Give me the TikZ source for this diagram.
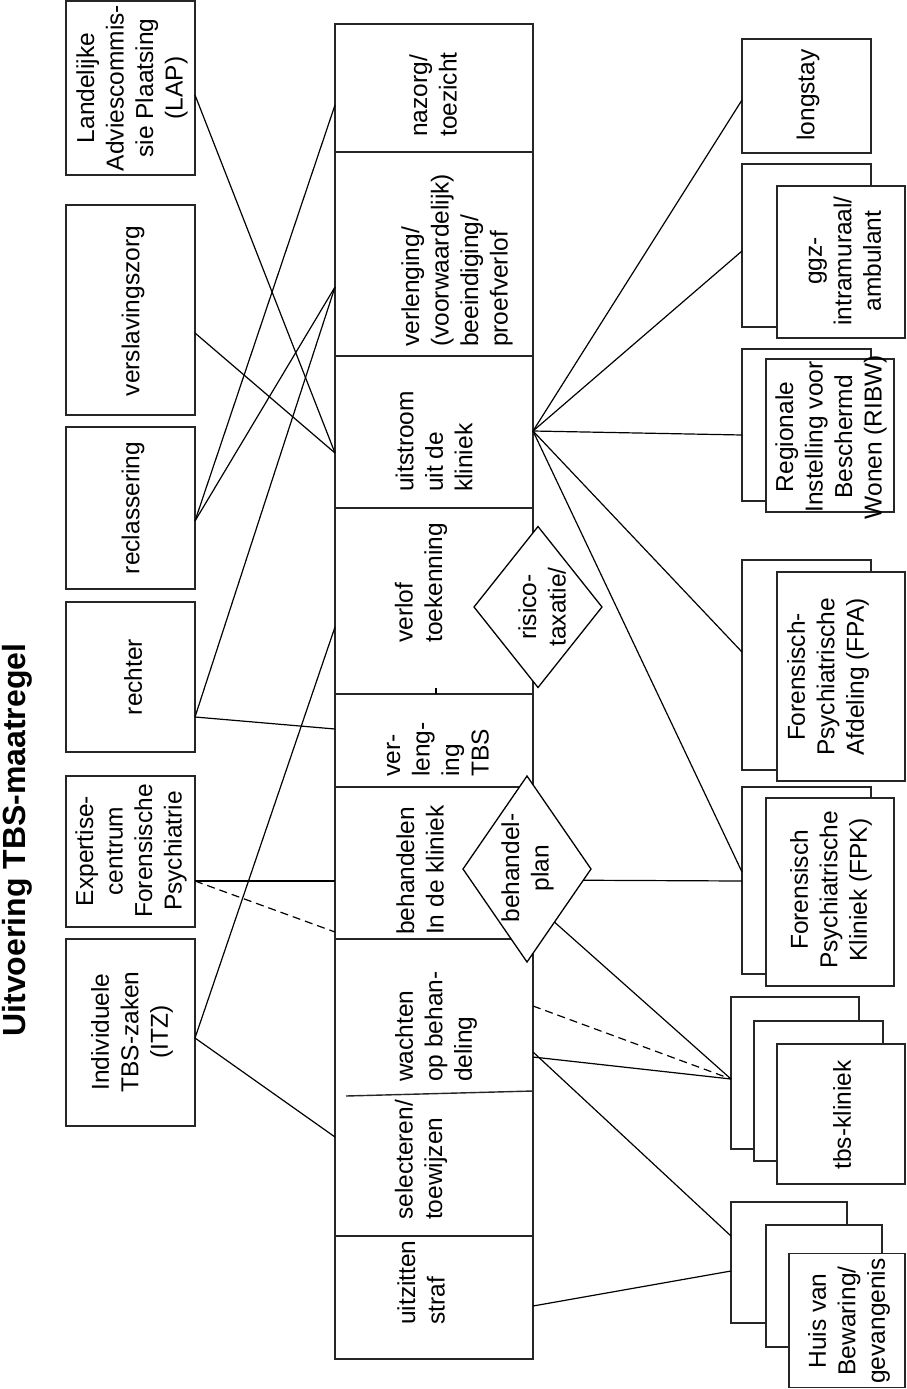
\documentclass[tikz,border=0pt]{standalone}
\usepackage{fontspec}
\setmainfont{Liberation Sans}
\usetikzlibrary{shapes.geometric}
\newcommand\myfs{\fontsize{24.5}{29.5}\selectfont}
\newcommand\mybox[5]{\node[box, minimum width=#4, minimum height=#5] (#1) at (#2,#3) {};}
\begin{document}
\begin{tikzpicture}[x=1pt,y=-1pt,
  box/.style={draw=black!85, line width=1.4pt, fill=white, inner sep=0pt, outer sep=0pt},
  dia/.style={diamond, draw=black, line width=1.3pt, fill=white, inner sep=0pt, outer sep=0pt},
  txt/.style={rotate=90, font=\myfs, align=center, inner sep=0pt},
  ltxt/.style={rotate=90, font=\myfs, align=left, inner sep=0pt, anchor=west},
  conn/.style={line width=1.2pt, black},
  dconn/.style={line width=1.2pt, black, dash pattern=on 8pt off 5pt},
  divl/.style={line width=1.4pt, black!85}]
\useasboundingbox (0,0) rectangle (906,1389);

% title
\node[rotate=90, font=\bfseries\fontsize{32}{38}\selectfont, inner sep=0pt] (title) at (17,840) {Uitvoering TBS-maatregel};

% left boxes
\mybox{lap}{130.5}{88}{129pt}{174pt}
\mybox{versl}{130.5}{310}{129pt}{210pt}
\mybox{recl}{130.5}{508}{129pt}{162pt}
\mybox{rech}{130.5}{677}{129pt}{150pt}
\mybox{exp}{130.5}{851.5}{129pt}{151pt}
\mybox{itz}{130.5}{1032.5}{129pt}{187pt}

% central column
\mybox{col}{434}{691.5}{198pt}{1335pt}
\coordinate (d1a) at (335,152);  \coordinate (d1b) at (533,152);
\coordinate (d2a) at (335,356);  \coordinate (d2b) at (533,356);
\coordinate (d3a) at (335,508);  \coordinate (d3b) at (533,508);
\coordinate (d4a) at (335,694);  \coordinate (d4b) at (533,694);
\coordinate (d5a) at (335,787);  \coordinate (d5b) at (533,787);
\coordinate (d6a) at (335,939);  \coordinate (d6b) at (533,939);
\coordinate (d7a) at (346,1096); \coordinate (d7b) at (533,1091);
\coordinate (d8a) at (335,1236); \coordinate (d8b) at (533,1236);
\foreach \i in {1,...,8} {\draw[divl] (d\i a) -- (d\i b);}
\coordinate (ticka) at (436,688); \coordinate (tickb) at (436,694);
\draw[line width=2pt] (ticka) -- (tickb);

% right boxes
\mybox{long}{806.5}{96}{129pt}{114pt}
\mybox{ggzB}{806.5}{245.5}{129pt}{163pt}
\mybox{ggzF}{841}{262}{128pt}{152pt}
\mybox{ribwB}{806.5}{425}{129pt}{152pt}
\mybox{ribwF}{830}{435.5}{128pt}{153pt}
\mybox{fpaB}{806.5}{665}{129pt}{210pt}
\mybox{fpaF}{841}{676.5}{128pt}{209pt}
\mybox{fpkB}{806.5}{880.5}{129pt}{187pt}
\mybox{fpkF}{830}{892}{128pt}{188pt}
\mybox{tbsA}{795}{1073}{128pt}{152pt}
\mybox{tbsB}{818.5}{1091}{129pt}{140pt}
\mybox{tbsC}{841}{1114}{128pt}{140pt}
\mybox{huisA}{789}{1262.5}{116pt}{121pt}
\mybox{huisB}{824}{1286}{116pt}{122pt}
\mybox{huisC}{847}{1320.5}{116pt}{134pt}

% connection points
\coordinate (lapR) at (195,95);
\coordinate (verslR) at (195,333);
\coordinate (reclR) at (195,521);
\coordinate (rechR) at (195,717);
\coordinate (expR) at (195,881);
\coordinate (itzR) at (195,1038);
\coordinate (L105) at (335,105);
\coordinate (L287) at (335,287);
\coordinate (L453) at (335,453);
\coordinate (L627) at (335,627);
\coordinate (L729) at (335,729);
\coordinate (L881) at (335,881);
\coordinate (L932) at (335,932);
\coordinate (L1137) at (335,1137);
\coordinate (R431) at (533,431);
\coordinate (R880) at (533,880);
\coordinate (R903) at (533,903);
\coordinate (R1006) at (533,1006);
\coordinate (R1052) at (533,1052);
\coordinate (R1057) at (533,1057);
\coordinate (R1306) at (533,1306);
\coordinate (longL) at (742,100);
\coordinate (ggzL) at (742,251);
\coordinate (ribwL) at (742,435);
\coordinate (fpaL) at (742,652);
\coordinate (fpkL) at (742,872);
\coordinate (fpkL2) at (742,881);
\coordinate (tbsL) at (731,1079);
\coordinate (huisL1) at (731,1236);
\coordinate (huisL2) at (731,1271);

% left connectors
\draw[conn] (lapR) -- (L453);
\draw[conn] (verslR) -- (L453);
\draw[conn] (reclR) -- (L105);
\draw[conn] (reclR) -- (L287);
\draw[conn] (rechR) -- (L287);
\draw[conn] (rechR) -- (L729);
\draw[conn] (expR) -- (L881);
\draw[dconn] (expR) -- (L932);
\draw[conn] (itzR) -- (L627);
\draw[conn] (itzR) -- (L1137);

% right connectors
\draw[conn] (R431) -- (longL);
\draw[conn] (R431) -- (ggzL);
\draw[conn] (R431) -- (ribwL);
\draw[conn] (R431) -- (fpaL);
\draw[conn] (R431) -- (fpkL);
\draw[conn] (R880) -- (fpkL2);
\draw[conn] (R903) -- (tbsL);
\draw[dconn] (R1006) -- (tbsL);
\draw[conn] (R1057) -- (tbsL);
\draw[conn] (R1052) -- (huisL1);
\draw[conn] (R1306) -- (huisL2);

% diamonds
\node[dia, minimum width=128pt, minimum height=161pt] (risico) at (538,607) {};
\node[dia, minimum width=128pt, minimum height=186pt] (plan) at (527,869) {};

% texts
\node[txt] (t-lap) at (132,88) {Landelijke\\Adviescommis-\\sie Plaatsing\\(LAP)};
\node[txt] (t-versl) at (133,311) {verslavingszorg};
\node[txt] (t-recl) at (133,508) {reclassering};
\node[txt] (t-rech) at (133,677) {rechter};
\node[txt] (t-exp) at (131,851) {Expertise-\\centrum\\Forensische\\Psychiatrie};
\node[txt] (t-itz) at (132,1032) {Individuele\\TBS-zaken\\(ITZ)};

\node[ltxt] (t-nazorg) at (433,137) {nazorg/\\toezicht};
\node[ltxt] (t-verl) at (457,347) {verlenging/\\(voorwaardelijk)\\beeindiging/\\proefverlof};
\node[ltxt] (t-uit) at (434,492) {uitstroom\\uit de\\kliniek};
\node[ltxt] (t-verlof) at (421,643) {verlof\\toekenning};
\node[ltxt] (t-tbs) at (438,777) {ver-\\leng-\\ing\\TBS};
\node[ltxt] (t-beh) at (420,935) {behandelen\\In de kliniek};
\node[ltxt] (t-wacht) at (436,1082) {wachten\\op behan-\\deling};
\node[ltxt] (t-sel) at (421,1220) {selecteren/\\toewijzen};
\node[ltxt] (t-straf) at (421,1325) {uitzitten\\straf};

\node[txt] (t-risico) at (542,607) {risico-\\taxatie/};
\node[txt] (t-plan) at (527.5,868) {behandel-\\plan};

\node[txt] (t-long) at (808,95) {longstay};
\node[txt] (t-ggz) at (845,261) {ggz-\\intramuraal/\\ambulant};
\node[txt] (t-ribw) at (831,437) {Regionale\\Instelling voor\\Beschermd\\Wonen (RIBW)};
\node[txt] (t-fpa) at (828,677) {Forensisch-\\Psychiatrische\\Afdeling (FPA)};
\node[txt] (t-fpk) at (831,890) {Forensisch\\Psychiatrische\\Kliniek (FPK)};
\node[txt] (t-tbsk) at (842,1115) {tbs-kliniek};
\node[txt] (t-huis) at (849,1321) {Huis van\\Bewaring/\\gevangenis};
\end{tikzpicture}
\end{document}
